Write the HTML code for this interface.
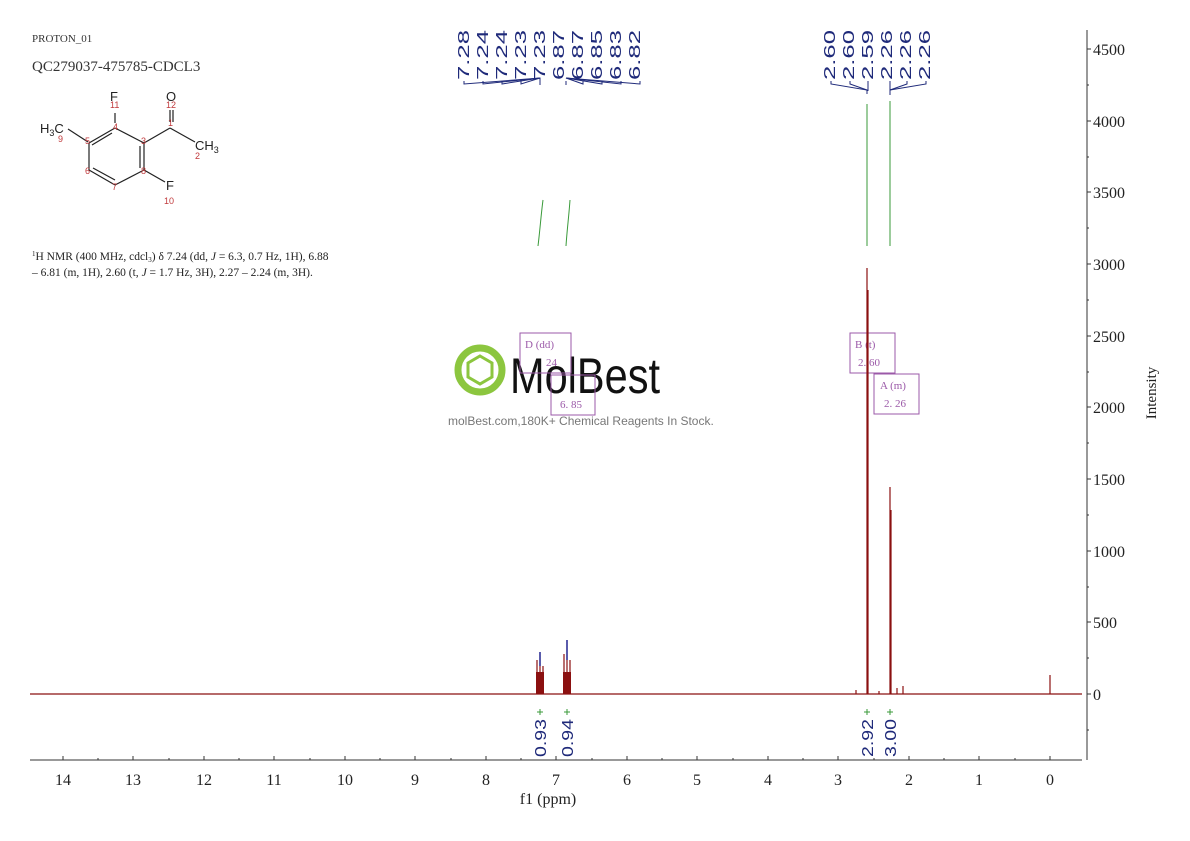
<!DOCTYPE html>
<html><head><meta charset="utf-8"><style>
html,body{margin:0;padding:0;background:#fff;}
svg{display:block;}
.t{font-family:"Liberation Serif",serif;}
.s{font-family:"Liberation Sans",sans-serif;}
</style></head><body>
<svg width="1190" height="841" viewBox="0 0 1190 841" xmlns="http://www.w3.org/2000/svg">
<text x="32" y="42" class="t" font-size="11" fill="#333">PROTON_01</text>
<text x="32" y="71" class="t" font-size="15" fill="#333">QC279037-475785-CDCL3</text>
<g stroke="#222" stroke-width="1.2" fill="none">
<line x1="115" y1="113" x2="115" y2="123"/>
<line x1="173" y1="110" x2="173" y2="122"/><line x1="170" y1="110" x2="170" y2="122"/>
<line x1="115" y1="128" x2="144" y2="143"/>
<line x1="115" y1="128" x2="89" y2="143"/><line x1="112" y1="133" x2="92" y2="145"/>
<line x1="144" y1="143" x2="170" y2="128"/>
<line x1="170" y1="128" x2="195" y2="142"/>
<line x1="68" y1="129" x2="88" y2="142"/>
<line x1="89" y1="143" x2="89" y2="170"/>
<line x1="89" y1="170" x2="115" y2="185"/><line x1="93" y1="168" x2="115" y2="180"/>
<line x1="115" y1="185" x2="144" y2="170"/>
<line x1="144" y1="143" x2="144" y2="170"/><line x1="140" y1="146" x2="140" y2="168"/>
<line x1="144" y1="170" x2="165" y2="182"/>
</g>
<g class="s" fill="#222" font-size="13">
<text x="110" y="101">F</text><text x="166" y="101">O</text>
<text x="40" y="133">H<tspan font-size="9" dy="3">3</tspan><tspan dy="-3">C</tspan></text>
<text x="195" y="150">CH<tspan font-size="9" dy="3">3</tspan></text>
<text x="166" y="190">F</text>
</g>
<g class="s" fill="#c0393b" font-size="9">
<text x="110" y="108">11</text><text x="166" y="108">12</text><text x="113" y="130">4</text>
<text x="168" y="126">1</text><text x="58" y="142">9</text><text x="85" y="144">5</text>
<text x="141" y="144">3</text><text x="195" y="159">2</text><text x="85" y="174">6</text>
<text x="141" y="174">8</text><text x="112" y="190">7</text><text x="164" y="204">10</text>
</g>
<text x="32" y="260" class="t" font-size="11.5" fill="#222"><tspan font-size="7" dy="-4">1</tspan><tspan dy="4">H NMR (400 MHz, cdcl</tspan><tspan font-size="7" dy="2">3</tspan><tspan dy="-2">) δ 7.24 (dd, </tspan><tspan font-style="italic">J</tspan> = 6.3, 0.7 Hz, 1H), 6.88</text>
<text x="32" y="276" class="t" font-size="11.5" fill="#222">– 6.81 (m, 1H), 2.60 (t, <tspan font-style="italic">J</tspan> = 1.7 Hz, 3H), 2.27 – 2.24 (m, 3H).</text>

<g class="s" font-size="16" fill="#1f2a7a">
<text transform="translate(469,80) rotate(-90)" textLength="50" lengthAdjust="spacingAndGlyphs">7.28</text>
<text transform="translate(488,80) rotate(-90)" textLength="50" lengthAdjust="spacingAndGlyphs">7.24</text>
<text transform="translate(507,80) rotate(-90)" textLength="50" lengthAdjust="spacingAndGlyphs">7.24</text>
<text transform="translate(526,80) rotate(-90)" textLength="50" lengthAdjust="spacingAndGlyphs">7.23</text>
<text transform="translate(545,80) rotate(-90)" textLength="50" lengthAdjust="spacingAndGlyphs">7.23</text>
<text transform="translate(564,80) rotate(-90)" textLength="50" lengthAdjust="spacingAndGlyphs">6.87</text>
<text transform="translate(583,80) rotate(-90)" textLength="50" lengthAdjust="spacingAndGlyphs">6.87</text>
<text transform="translate(602,80) rotate(-90)" textLength="50" lengthAdjust="spacingAndGlyphs">6.85</text>
<text transform="translate(621,80) rotate(-90)" textLength="50" lengthAdjust="spacingAndGlyphs">6.83</text>
<text transform="translate(640,80) rotate(-90)" textLength="50" lengthAdjust="spacingAndGlyphs">6.82</text>
<text transform="translate(835,80) rotate(-90)" textLength="50" lengthAdjust="spacingAndGlyphs">2.60</text>
<text transform="translate(854,80) rotate(-90)" textLength="50" lengthAdjust="spacingAndGlyphs">2.60</text>
<text transform="translate(873,80) rotate(-90)" textLength="50" lengthAdjust="spacingAndGlyphs">2.59</text>
<text transform="translate(892,80) rotate(-90)" textLength="50" lengthAdjust="spacingAndGlyphs">2.26</text>
<text transform="translate(911,80) rotate(-90)" textLength="50" lengthAdjust="spacingAndGlyphs">2.26</text>
<text transform="translate(930,80) rotate(-90)" textLength="50" lengthAdjust="spacingAndGlyphs">2.26</text>
</g>
<g stroke="#1f2a7a" stroke-width="1" fill="none">
<path d="M464,81v3L540,78v4"/><path d="M483,81v3L540,78"/><path d="M502,81v3L540,78"/><path d="M521,81v3L540,78"/><path d="M540,81v4"/>
<path d="M566,81v4"/><path d="M583,81v3L566,78"/><path d="M602,81v3L566,78"/><path d="M621,81v3L566,78"/><path d="M640,81v3L566,78"/>
<path d="M831,81v3L867,90v4"/><path d="M850,81v3L867,90"/><path d="M868,81v10"/>
<path d="M890,81v10v4"/><path d="M907,81v3L890,90"/><path d="M926,81v3L890,90"/>
</g>
<g stroke="#3a9a3a" stroke-width="1" fill="none">
<path d="M538,246 C540,230 541,215 543,200"/>
<path d="M566,246 C567,230 569,215 570,200"/>
<line x1="867" y1="246" x2="867" y2="104"/>
<line x1="890" y1="246" x2="890" y2="101"/>
</g>
<g>
<circle cx="480" cy="370" r="22" fill="none" stroke="#8cc63f" stroke-width="7"/>
<polygon points="480,356 492,363 492,377 480,384 468,377 468,363" fill="none" stroke="#8cc63f" stroke-width="3"/>
<text x="510" y="393" class="s" font-size="50" fill="#111" textLength="150" lengthAdjust="spacingAndGlyphs">MolBest</text>
<text x="448" y="425" class="s" font-size="12" fill="#777">molBest.com,180K+ Chemical Reagents In Stock.</text>
</g>
<g fill="none" stroke="#9b59a8" stroke-width="1">
<rect x="520" y="333" width="51" height="40"/>
<rect x="551" y="375" width="44" height="40"/>
<rect x="850" y="333" width="45" height="40"/>
<rect x="874" y="374" width="45" height="40"/>
</g>
<g class="t" font-size="11" fill="#9b59a8">
<text x="525" y="348">D (dd)</text><text x="546" y="366">24</text>
<text x="560" y="408">6. 85</text>
<text x="855" y="348">B (t)</text><text x="858" y="366">2. 60</text>
<text x="880" y="389">A (m)</text><text x="884" y="407">2. 26</text>
</g>
<g stroke="#8b1010" stroke-width="1.2" fill="none">
<line x1="30" y1="694" x2="1082" y2="694"/>
<path d="M537,694 V660 M540,694 V652 M543,694 V666"/>
<path d="M564,694 V654 M567,694 V640 M570,694 V660"/>
<line x1="867" y1="694" x2="867" y2="268"/>
<line x1="868" y1="694" x2="868" y2="290"/>
<line x1="890" y1="694" x2="890" y2="487"/>
<line x1="891" y1="694" x2="891" y2="510"/>
<line x1="856" y1="694" x2="856" y2="690"/>
<line x1="879" y1="694" x2="879" y2="691"/>
<line x1="897" y1="694" x2="897" y2="688"/>
<line x1="903" y1="694" x2="903" y2="686"/>
<line x1="1050" y1="694" x2="1050" y2="675"/>
</g>
<g fill="#8b1010"><rect x="536" y="672" width="8" height="22"/><rect x="563" y="672" width="8" height="22"/></g>
<g stroke="#2a35a0" stroke-width="1.5"><line x1="540" y1="652" x2="540" y2="666"/><line x1="567" y1="640" x2="567" y2="660"/></g>
<g stroke="#3a9a3a" stroke-width="1"><path d="M537,712h6M540,709v6M564,712h6M567,709v6M864,712h6M867,709v6M887,712h6M890,709v6"/></g>
<g class="s" font-size="16" fill="#1f2a7a">
<text transform="translate(546,757) rotate(-90)" textLength="38" lengthAdjust="spacingAndGlyphs">0.93</text>
<text transform="translate(573,757) rotate(-90)" textLength="38" lengthAdjust="spacingAndGlyphs">0.94</text>
<text transform="translate(873,757) rotate(-90)" textLength="38" lengthAdjust="spacingAndGlyphs">2.92</text>
<text transform="translate(896,757) rotate(-90)" textLength="38" lengthAdjust="spacingAndGlyphs">3.00</text>
</g>
<g stroke="#333" stroke-width="1"><line x1="30" y1="760" x2="1082" y2="760"/>
<path d="M63,760v-4M98,760v-2M133,760v-4M169,760v-2M204,760v-4M239,760v-2M274,760v-4M310,760v-2M345,760v-4M380,760v-2M415,760v-4M451,760v-2M486,760v-4M521,760v-2M556,760v-4M592,760v-2M627,760v-4M662,760v-2M697,760v-4M733,760v-2M768,760v-4M803,760v-2M838,760v-4M874,760v-2M909,760v-4M944,760v-2M979,760v-4M1015,760v-2M1050,760v-4"/></g>
<g class="t" font-size="16" fill="#222" text-anchor="middle">
<text x="63" y="785">14</text><text x="133" y="785">13</text><text x="204" y="785">12</text><text x="274" y="785">11</text><text x="345" y="785">10</text><text x="415" y="785">9</text><text x="486" y="785">8</text><text x="556" y="785">7</text><text x="627" y="785">6</text><text x="697" y="785">5</text><text x="768" y="785">4</text><text x="838" y="785">3</text><text x="909" y="785">2</text><text x="979" y="785">1</text><text x="1050" y="785">0</text>
<text x="548" y="804">f1 (ppm)</text>
</g>
<g stroke="#333" stroke-width="1"><line x1="1087" y1="30" x2="1087" y2="760"/>
<path d="M1087,49h4M1087,85h2M1087,121h4M1087,157h2M1087,192h4M1087,228h2M1087,264h4M1087,300h2M1087,336h4M1087,372h2M1087,407h4M1087,443h2M1087,479h4M1087,515h2M1087,551h4M1087,587h2M1087,622h4M1087,658h2M1087,694h4M1087,730h2"/></g>
<g class="t" font-size="16" fill="#222">
<text x="1093" y="55">4500</text><text x="1093" y="127">4000</text><text x="1093" y="198">3500</text><text x="1093" y="270">3000</text><text x="1093" y="342">2500</text><text x="1093" y="413">2000</text><text x="1093" y="485">1500</text><text x="1093" y="557">1000</text><text x="1093" y="628">500</text><text x="1093" y="700">0</text>
</g>
<text transform="translate(1156,393) rotate(-90)" class="t" font-size="15" fill="#222" text-anchor="middle">Intensity</text>
</svg>
</body></html>
